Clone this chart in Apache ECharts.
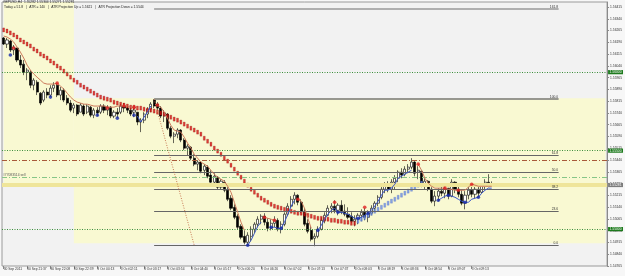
<!DOCTYPE html>
<html><head><meta charset="utf-8">
<script src="https://cdn.jsdelivr.net/npm/echarts@6/dist/echarts.min.js"></script>
<style>html,body{margin:0;padding:0;background:#f7f7f7}#c{width:625px;height:276px}</style>
</head><body><div id="c"></div>
<script>
const symbolName = 'GBPUSD,H4';
const timeLabels = ['30 Sep 2011','30 Sep 21:37','30 Sep 22:08','30 Sep 22:39','3 Oct 00:13','3 Oct 02:11','3 Oct 03:17','3 Oct 03:54','3 Oct 04:40','3 Oct 05:17','3 Oct 06:20','3 Oct 06:26','3 Oct 07:02','3 Oct 07:13','3 Oct 07:37','3 Oct 08:03','3 Oct 08:19','3 Oct 08:36','3 Oct 08:54','3 Oct 09:07','3 Oct 09:13'];
const labelEvery = 7;
const totalBars = 181;
const priceTicks = [1.56415,1.56340,1.56265,1.56190,1.56115,1.56040,1.55965,1.55890,1.55815,1.55740,1.55665,1.55590,1.55515,1.55440,1.55365,1.55290,1.55215,1.55140,1.55065,1.54990,1.54915,1.54840,1.54765];
const yMin = 1.54765, yMax = 1.56447;

const opens = [1.56218,1.56179,1.56198,1.56141,1.56154,1.56077,1.56051,1.56000,1.56000,1.55917,
1.55936,1.55866,1.55822,1.55873,1.55854,1.55898,1.55917,1.55854,1.55885,1.55834,
1.55803,1.55771,1.55790,1.55745,1.55784,1.55745,1.55777,1.55726,1.55758,1.55745,
1.55784,1.55758,1.55777,1.55720,1.55745,1.55745,1.55784,1.55771,1.55758,1.55745,
1.55745,1.55682,1.55694,1.55733,1.55764,1.55822,1.55796,1.55771,1.55720,1.55733,
1.55643,1.55592,1.55605,1.55631,1.55567,1.55516,1.55522,1.55452,1.55414,1.55427,
1.55375,1.55395,1.55344,1.55299,1.55331,1.55267,1.55299,1.55248,1.55197,1.55139,
1.55082,1.55018,1.54954,1.54916,1.54954,1.54999,1.55031,1.55063,1.55082,1.55044,
1.55005,1.55037,1.55056,1.54999,1.55031,1.55095,1.55146,1.55190,1.55216,1.55171,
1.55114,1.55037,1.54992,1.54942,1.54954,1.54999,1.55056,1.55088,1.55133,1.55146,
1.55120,1.55152,1.55114,1.55095,1.55082,1.55050,1.55063,1.55088,1.55107,1.55075,
1.55101,1.55133,1.55165,1.55203,1.55254,1.55280,1.55254,1.55299,1.55324,1.55363,
1.55350,1.55382,1.55395,1.55427,1.55363,1.55369,1.55286,1.55305,1.55254,1.55178,
1.55210,1.55242,1.55229,1.55261,1.55210,1.55299,1.55254,1.55222,1.55165,1.55216,
1.55248,1.55222,1.55254,1.55235,1.55273,1.55299,1.55282];
const highs = [1.56224,1.56218,1.56205,1.56173,1.56154,1.56109,1.56077,1.56026,1.56013,1.55962,
1.55949,1.55873,1.55885,1.55898,1.55917,1.55936,1.55930,1.55905,1.55898,1.55854,
1.55822,1.55803,1.55796,1.55803,1.55796,1.55796,1.55784,1.55771,1.55777,1.55796,
1.55796,1.55790,1.55784,1.55758,1.55771,1.55796,1.55803,1.55790,1.55777,1.55771,
1.55745,1.55707,1.55745,1.55777,1.55809,1.55828,1.55809,1.55784,1.55758,1.55739,
1.55656,1.55618,1.55643,1.55637,1.55579,1.55541,1.55528,1.55477,1.55439,1.55433,
1.55414,1.55407,1.55375,1.55356,1.55337,1.55318,1.55312,1.55267,1.55216,1.55158,
1.55095,1.55031,1.54992,1.54980,1.55018,1.55044,1.55082,1.55095,1.55101,1.55069,
1.55063,1.55082,1.55069,1.55050,1.55107,1.55165,1.55210,1.55235,1.55222,1.55190,
1.55133,1.55063,1.55018,1.54973,1.55018,1.55075,1.55107,1.55152,1.55165,1.55184,
1.55165,1.55184,1.55158,1.55139,1.55107,1.55088,1.55101,1.55126,1.55133,1.55120,
1.55152,1.55178,1.55216,1.55273,1.55299,1.55305,1.55318,1.55344,1.55375,1.55388,
1.55401,1.55414,1.55452,1.55433,1.55401,1.55375,1.55324,1.55312,1.55267,1.55242,
1.55261,1.55280,1.55273,1.55261,1.55318,1.55305,1.55273,1.55248,1.55242,1.55273,
1.55286,1.55273,1.55273,1.55293,1.55318,1.55350,1.55304];
const lows = [1.56173,1.56154,1.56128,1.56109,1.56064,1.56026,1.55981,1.55949,1.55898,1.55885,
1.55854,1.55790,1.55809,1.55834,1.55841,1.55873,1.55841,1.55822,1.55809,1.55790,
1.55745,1.55739,1.55720,1.55745,1.55720,1.55733,1.55713,1.55707,1.55720,1.55733,
1.55739,1.55726,1.55707,1.55707,1.55707,1.55733,1.55745,1.55739,1.55720,1.55713,
1.55662,1.55618,1.55675,1.55707,1.55745,1.55771,1.55758,1.55707,1.55682,1.55631,
1.55579,1.55548,1.55579,1.55554,1.55503,1.55471,1.55439,1.55401,1.55375,1.55356,
1.55344,1.55324,1.55286,1.55273,1.55254,1.55254,1.55235,1.55178,1.55120,1.55063,
1.54999,1.54935,1.54903,1.54897,1.54922,1.54973,1.55012,1.55031,1.55024,1.54986,
1.54992,1.55012,1.54986,1.54973,1.55018,1.55082,1.55133,1.55158,1.55152,1.55101,
1.55018,1.54973,1.54922,1.54891,1.54942,1.54992,1.55037,1.55082,1.55101,1.55101,
1.55088,1.55095,1.55082,1.55063,1.55037,1.55018,1.55031,1.55050,1.55056,1.55044,
1.55088,1.55114,1.55146,1.55190,1.55229,1.55235,1.55229,1.55254,1.55299,1.55324,
1.55337,1.55356,1.55382,1.55337,1.55318,1.55267,1.55254,1.55242,1.55165,1.55146,
1.55178,1.55210,1.55197,1.55190,1.55203,1.55229,1.55203,1.55152,1.55126,1.55190,
1.55203,1.55197,1.55203,1.55229,1.55254,1.55267,1.55271];
const closes = [1.56179,1.56205,1.56141,1.56160,1.56077,1.56045,1.56000,1.56013,1.55917,1.55949,
1.55873,1.55803,1.55873,1.55854,1.55898,1.55917,1.55854,1.55885,1.55822,1.55803,
1.55758,1.55790,1.55733,1.55790,1.55733,1.55784,1.55726,1.55758,1.55739,1.55784,
1.55758,1.55777,1.55720,1.55745,1.55733,1.55784,1.55771,1.55758,1.55733,1.55758,
1.55682,1.55694,1.55733,1.55764,1.55796,1.55784,1.55771,1.55720,1.55739,1.55643,
1.55592,1.55605,1.55631,1.55567,1.55516,1.55528,1.55452,1.55414,1.55427,1.55369,
1.55401,1.55337,1.55299,1.55337,1.55267,1.55305,1.55248,1.55190,1.55133,1.55075,
1.55012,1.54948,1.54916,1.54961,1.54999,1.55031,1.55063,1.55082,1.55044,1.55005,
1.55037,1.55056,1.54999,1.55031,1.55095,1.55146,1.55190,1.55216,1.55171,1.55114,
1.55031,1.54986,1.54935,1.54954,1.54999,1.55056,1.55088,1.55133,1.55146,1.55120,
1.55152,1.55107,1.55095,1.55075,1.55050,1.55063,1.55088,1.55107,1.55075,1.55101,
1.55133,1.55165,1.55203,1.55254,1.55280,1.55254,1.55299,1.55324,1.55363,1.55344,
1.55382,1.55395,1.55427,1.55356,1.55375,1.55280,1.55305,1.55254,1.55178,1.55210,
1.55242,1.55229,1.55261,1.55210,1.55299,1.55254,1.55222,1.55165,1.55216,1.55248,
1.55222,1.55254,1.55229,1.55273,1.55299,1.55286,1.55281];

// slow trail (squares): falling part (red) from bar 0, rising part (blue) from maBlueStart
const maRed = [1.56269,1.56262,1.56250,1.56237,1.56224,1.56205,1.56192,1.56179,1.56167,1.56147,
1.56135,1.56115,1.56103,1.56090,1.56071,1.56058,1.56039,1.56026,1.56007,1.55988,
1.55968,1.55949,1.55936,1.55917,1.55905,1.55892,1.55879,1.55866,1.55854,1.55841,
1.55834,1.55828,1.55822,1.55809,1.55803,1.55796,1.55790,1.55784,1.55777,1.55777,
1.55771,1.55771,1.55764,1.55758,1.55758,1.55752,1.55745,1.55739,1.55733,1.55720,
1.55713,1.55701,1.55694,1.55682,1.55669,1.55656,1.55643,1.55631,1.55618,1.55605,
1.55579,1.55560,1.55541,1.55516,1.55497,1.55477,1.55452,1.55433,1.55407,1.55382,
1.55356,1.55331,1.55305,1.55280,1.55254,1.55235,1.55216,1.55197,1.55184,1.55171,
1.55158,1.55146,1.55139,1.55133,1.55126,1.55120,1.55114,1.55107,1.55101,1.55101,
1.55095,1.55088,1.55082,1.55075,1.55069,1.55069,1.55063,1.55063,1.55056,1.55056,
1.55050,1.55050,1.55044,1.55044,1.55037,1.55037];
const maBlueStart = 106;
const maBlue = [1.55050,1.55063,1.55075,1.55088,1.55101,1.55114,1.55126,1.55139,1.55152,1.55165,
1.55178,1.55190,1.55203,1.55216,1.55229,1.55242,1.55254,1.55267,1.55280,1.55293];

// fast trails: [startBar, values]
const thinRedSegments = [
 [0,[1.56230,1.56224,1.56211,1.56192,1.56160,1.56128,1.56090,1.56045,1.56013,1.55988,1.55968,1.55949,1.55930,1.55924,1.55924,1.55924,1.55930,1.55911,1.55892,1.55866,1.55841,1.55822,1.55809,1.55803,1.55796,1.55796,1.55790,1.55784,1.55784,1.55784,1.55784,1.55777,1.55777,1.55777,1.55784,1.55784,1.55784,1.55784,1.55777,1.55777,1.55771]],
 [46,[1.55790,1.55777,1.55745,1.55707,1.55662,1.55631,1.55624,1.55618,1.55586,1.55548,1.55516,1.55477,1.55452,1.55427,1.55414,1.55401,1.55375,1.55350,1.55331,1.55318,1.55305,1.55273,1.55235,1.55171,1.55107,1.55044,1.54992]],
 [78,[1.55075,1.55069,1.55063,1.55056]],
 [88,[1.55190,1.55178,1.55133,1.55069,1.55005]],
 [124,[1.55414,1.55375,1.55324,1.55293,1.55273,1.55261,1.55261,1.55261,1.55261,1.55254,1.55254,1.55248,1.55248,1.55248,1.55248,1.55267,1.55286,1.55280,1.55273,1.55273,1.55273,1.55273,1.55273]]
];
const thinBlueSegments = [
 [40,[1.55720,1.55682,1.55713,1.55745,1.55784]],
 [73,[1.54897,1.54929,1.54973,1.55018,1.55044]],
 [80,[1.55012,1.55012,1.55005,1.55005,1.55044,1.55095,1.55146,1.55184]],
 [94,[1.54992,1.55024,1.55063,1.55095,1.55120,1.55133,1.55107,1.55107,1.55101,1.55095,1.55082,1.55069,1.55069,1.55075,1.55088,1.55101,1.55120,1.55146,1.55178,1.55216,1.55248,1.55248,1.55261,1.55286,1.55324,1.55337,1.55350,1.55363,1.55375]],
 [130,[1.55184,1.55197,1.55210,1.55216,1.55210,1.55203,1.55190,1.55178,1.55171,1.55171,1.55190,1.55197,1.55203,1.55229,1.55248,1.55261,1.55261]]
];
const redDotBars = [3,16,31,36,39,46,78,81,88,99,108,124,132,136,140];
const redDotPrices = [1.56154,1.55930,1.55771,1.55784,1.55777,1.55790,1.55075,1.55056,1.55190,1.55171,1.55139,1.55414,1.55261,1.55248,1.55286];
const blueDotBars = [2,14,28,34,39,73,80,83,94,100,106,109,130,133,138,142];
const blueDotPrices = [1.56109,1.55841,1.55726,1.55707,1.55726,1.54897,1.55012,1.55005,1.54992,1.55107,1.55069,1.55101,1.55184,1.55216,1.55171,1.55203];

const roundLevels = [1.56000,1.55500,1.55000];
const stopLevel = 1.55440;
const orderLevel = 1.55331;
const orderLabel = '#77083514 sell';
const fibHigh = 1.55828, fibLow = 1.54897;
const fibStartBar = 45, fibSecondBar = 57, fibEndBar = 166;
const fibLevels = [0, 23.6, 38.2, 50, 61.8, 100, 161.8];
const leftZone = {fromBar:-0.5, toBar:20.5, top:1.56447, bottom:1.55293};
const rightZone = {fromBar:20.5, toBar:180.5, top:1.55834, bottom:1.54910};
const atrToday = '51.8', atrValue = '140', atrUp = '1.5621', atrDown = '1.5544';

const FONT = 'Liberation Sans';
const n = closes.length;
const cats = [];
for (let i = 0; i < totalBars; i++) {
  const k = i / labelEvery;
  cats.push(i % labelEvery === 0 && k < timeLabels.length ? timeLabels[k] : '');
}
const candleData = opens.map((o, i) => [o, closes[i], lows[i], highs[i]]);
function segData(segs) {
  const arr = new Array(n).fill(null);
  segs.forEach(([s, vals]) => vals.forEach((v, j) => { arr[s + j] = v; }));
  return arr;
}
const maRedData = maRed.map((v, i) => [i, v]);
const maBlueData = maBlue.map((v, i) => [maBlueStart + i, v]);
const redDots = redDotBars.map((b, i) => [b, redDotPrices[i]]);
const blueDots = blueDotBars.map((b, i) => [b, blueDotPrices[i]]);

const small = {fontSize: 3.3, fontFamily: FONT};
const markLines = [];
roundLevels.forEach(v => markLines.push({yAxis: v,
  lineStyle: {color: '#3c8f3c', type: [1, 1.5], width: 1},
  label: Object.assign({show: true, position: 'end', formatter: v.toFixed(5), backgroundColor: '#1d7a1d', color: '#fff', padding: [0.6, 1.5], distance: 1}, small)}));
markLines.push({yAxis: stopLevel, lineStyle: {color: '#a85a3a', type: [5, 2, 1, 2], width: 1}, label: {show: false}});
markLines.push({yAxis: orderLevel, lineStyle: {color: '#86c686', type: [5, 2, 1, 2], width: 1},
  label: Object.assign({show: true, position: 'insideStartTop', formatter: orderLabel, color: '#555', distance: 1}, small)});
const lastClose = closes[n - 1];
markLines.push({yAxis: lastClose, lineStyle: {color: '#efe59a', width: 4, type: 'solid'},
  label: Object.assign({show: true, position: 'end', formatter: lastClose.toFixed(5), backgroundColor: '#7d7d7d', color: '#fff', padding: [0.6, 1.5], distance: 1}, small)});
fibLevels.forEach(l => {
  const p = fibLow + (fibHigh - fibLow) * l / 100;
  markLines.push([{coord: [fibStartBar, p], lineStyle: {color: l > 100 ? '#999' : (l === 100 ? '#777' : '#666'), width: l >= 100 ? 1.6 : 1.1, type: 'solid'},
    label: Object.assign({show: true, position: 'insideEndTop', formatter: l.toFixed(1), color: '#333', distance: 0.5}, small)},
    {coord: [fibEndBar, p]}]);
});
markLines.push([{coord: [fibStartBar, fibHigh], lineStyle: {color: '#c87a55', type: [1, 1.5], width: 1}, label: {show: false}}, {coord: [fibSecondBar, fibLow]}]);

const chart = echarts.init(document.getElementById('c'), null, {renderer: 'canvas'});
chart.setOption({
  animation: false,
  backgroundColor: '#f7f7f7',
  grid: {left: 2, right: 17, top: 2, bottom: 10, show: true, backgroundColor: '#f2f2f2', borderColor: '#9a9a9a', borderWidth: 1},
  xAxis: {type: 'category', data: cats, boundaryGap: true,
    axisLine: {show: false},
    axisTick: {show: true, alignWithLabel: true, interval: (i) => cats[i] !== '', length: 3, lineStyle: {color: '#888'}},
    axisLabel: {show: true, interval: (i, v) => v !== '', align: 'left', margin: 2, color: '#333', fontSize: 3.3, fontFamily: FONT},
    splitLine: {show: false}},
  yAxis: {type: 'value', position: 'right', min: yMin, max: yMax, scale: true,
    axisLine: {show: true, lineStyle: {color: '#8a8a8a'}},
    axisTick: {show: true, length: 2, customValues: priceTicks, lineStyle: {color: '#8a8a8a'}},
    axisLabel: {show: true, customValues: priceTicks, formatter: v => v.toFixed(5), margin: 3, color: '#333', fontSize: 3.3, fontFamily: FONT},
    splitLine: {show: false}},
  graphic: [
    {type: 'text', left: 3, top: 1, z: 100, style: {text: symbolName + '  ' + opens[n-1].toFixed(5) + ' ' + highs[n-1].toFixed(5) + ' ' + lows[n-1].toFixed(5) + ' ' + closes[n-1].toFixed(5), fill: '#222', font: '3.3px ' + FONT}},
    {type: 'text', left: 4, top: 6, z: 100, style: {text: 'Today = ' + atrToday + '   |   ATR = ' + atrValue + '   |   ATR Projection Up = ' + atrUp + '   |   ATR Projection Down = ' + atrDown, fill: '#222', font: '3.3px ' + FONT}}
  ],
  series: [
    {type: 'candlestick', data: candleData, barWidth: 2.6, z: 3,
      itemStyle: {color: '#ffffff', color0: '#000000', borderColor: '#000000', borderColor0: '#000000', borderWidth: 0.6},
      markArea: {silent: true, itemStyle: {color: '#f9f9d2'},
        data: [
          [{xAxis: leftZone.fromBar, yAxis: leftZone.top}, {xAxis: leftZone.toBar, yAxis: leftZone.bottom}],
          [{xAxis: rightZone.fromBar, yAxis: rightZone.top}, {xAxis: rightZone.toBar, yAxis: rightZone.bottom}]
        ]},
      markLine: {silent: true, symbol: ['none', 'none'], precision: 5, animation: false, data: markLines}
    },
    {type: 'scatter', data: maRedData, symbol: 'rect', symbolSize: [1.9, 4], z: 4, itemStyle: {color: '#d81010', borderColor: '#8a0000', borderWidth: 0.3}},
    {type: 'scatter', data: maBlueData, symbol: 'rect', symbolSize: [1.9, 4], z: 4, itemStyle: {color: '#6b8fe6', borderColor: '#4060c0', borderWidth: 0.3}},
    {type: 'line', data: segData(thinRedSegments), showSymbol: false, connectNulls: false, z: 5, lineStyle: {color: '#cc7a5c', width: 1}},
    {type: 'line', data: segData(thinBlueSegments), showSymbol: false, connectNulls: false, z: 5, lineStyle: {color: '#3a56c8', width: 1}},
    {type: 'scatter', data: redDots, symbol: 'circle', symbolSize: 3.6, z: 6, itemStyle: {color: '#e02020'}},
    {type: 'scatter', data: blueDots, symbol: 'circle', symbolSize: 3.6, z: 6, itemStyle: {color: '#1428a8'}}
  ]
});
</script></body></html>
